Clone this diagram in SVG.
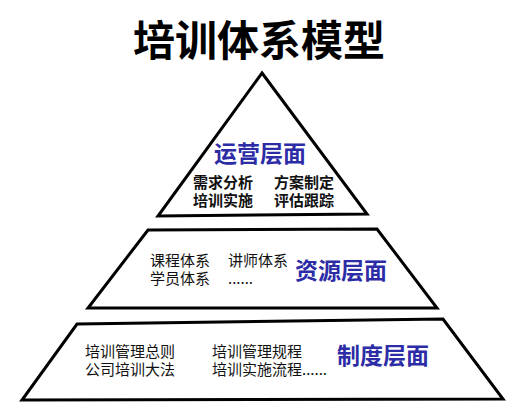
<svg xmlns="http://www.w3.org/2000/svg" width="529" height="409" viewBox="0 0 529 409">
<style>
.shape{fill:#fff;stroke:#000;stroke-width:3;stroke-linejoin:miter}
.t{font-family:"Noto Sans CJK SC","Noto Sans CJK JP",sans-serif;fill:#111}
.title{font-size:42px;font-weight:bold;fill:#000}
.lvl{font-size:23px;font-weight:bold;fill:#2c2ca6}
.item{font-size:15px}
.b{font-weight:bold}
</style>
<rect width="529" height="409" fill="#fff"/>
<text class="t title" x="259" y="56" text-anchor="middle">培训体系模型</text>
<g id="operation">
<polygon class="shape" points="262,73 367,214 158,216"/>
<text class="t lvl" x="260" y="162" text-anchor="middle">运营层面</text>
<text class="t item b"><tspan x="193" y="188">需求分析</tspan><tspan x="274" y="188">方案制定</tspan><tspan x="193" y="206">培训实施</tspan><tspan x="274" y="206">评估跟踪</tspan></text>
</g>
<g id="resource">
<polygon class="shape" points="148,230 377,229 437,308 88,308"/>
<text class="t item"><tspan x="150" y="266">课程体系</tspan><tspan x="228" y="266">讲师体系</tspan><tspan x="150" y="284">学员体系</tspan><tspan x="228" y="284">......</tspan></text>
<text class="t lvl" x="295" y="279">资源层面</text>
</g>
<g id="system">
<polygon class="shape" points="77,324 443,319 503,399 22,400"/>
<text class="t item"><tspan x="85" y="357">培训管理总则</tspan><tspan x="212" y="357">培训管理规程</tspan><tspan x="85" y="375">公司培训大法</tspan><tspan x="212" y="375">培训实施流程......</tspan></text>
<text class="t lvl" x="337" y="364">制度层面</text>
</g>
<g id="connectors"></g>
</svg>
